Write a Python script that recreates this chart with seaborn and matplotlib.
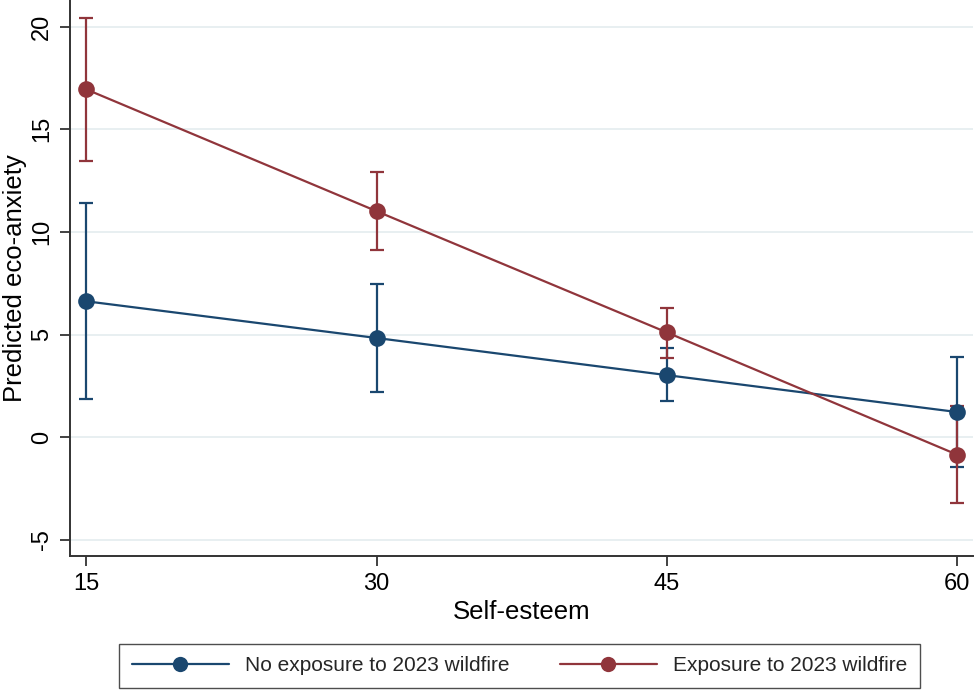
import pandas as pd
import matplotlib.pyplot as plt
import seaborn as sns
from matplotlib.lines import Line2D

# ==============================================================================
# DATA
# ==============================================================================
self_esteem = [15, 30, 45, 60]
groups = ["No exposure to 2023 wildfire", "Exposure to 2023 wildfire"]

pred_no_exposure = [6.62, 4.83, 3.02, 1.22]
lower_no_exposure = [1.84, 2.20, 1.77, -1.48]
upper_no_exposure = [11.41, 7.45, 4.32, 3.91]

pred_exposure = [16.95, 11.01, 5.10, -0.86]
lower_exposure = [13.47, 9.12, 3.86, -3.23]
upper_exposure = [20.44, 12.90, 6.27, 1.54]

y_ticks = [-5, 0, 5, 10, 15, 20]

# ==============================================================================
# STYLE
# ==============================================================================
NAVY = "#1a476f"
MAROON = "#90353b"
GRID = "#e6eef0"

sns.set_theme(style="white")
plt.rcParams["font.family"] = ["Liberation Sans", "DejaVu Sans"]

df = pd.DataFrame({
    "self_esteem": self_esteem * 2,
    "pred": pred_no_exposure + pred_exposure,
    "lower": lower_no_exposure + lower_exposure,
    "upper": upper_no_exposure + upper_exposure,
    "group": [groups[0]] * 4 + [groups[1]] * 4,
})
palette = {groups[0]: NAVY, groups[1]: MAROON}

fig = plt.figure(figsize=(9.75, 6.9), dpi=100)
ax = fig.add_axes([0.0718, 0.194, 0.926, 0.806])

# confidence intervals (caps)
for g in groups:
    sub = df[df["group"] == g]
    ax.errorbar(sub["self_esteem"], sub["pred"],
                yerr=[sub["pred"] - sub["lower"], sub["upper"] - sub["pred"]],
                fmt="none", ecolor=palette[g], elinewidth=1.6,
                capsize=5, capthick=1.6, zorder=2)

# predicted margins
sns.lineplot(data=df, x="self_esteem", y="pred", hue="group", palette=palette,
             hue_order=groups, marker="o", markersize=12, markeredgewidth=0,
             linewidth=1.6, legend=False, ax=ax, zorder=3)

ax.set_xlim(14.17, 60.8)
ax.set_ylim(-5.8, 21.3)
ax.set_xticks(self_esteem)
ax.set_yticks(y_ticks)
ax.set_xticklabels([str(v) for v in self_esteem], fontsize=17, color="black")
ax.set_yticklabels([str(v) for v in y_ticks], fontsize=17, rotation=90,
                   va="center", color="black")
ax.tick_params(axis="both", direction="out", length=7, width=1.3,
               color="#333333", left=True, bottom=True, pad=5)
ax.yaxis.grid(True, color=GRID, linewidth=1.3)
ax.set_axisbelow(True)

for side in ["top", "right"]:
    ax.spines[side].set_visible(False)
for side in ["left", "bottom"]:
    ax.spines[side].set_color("#333333")
    ax.spines[side].set_linewidth(1.4)

ax.set_xlabel("Self-esteem", fontsize=18.5, labelpad=4, color="black")
ax.set_ylabel("Predicted eco-anxiety", fontsize=18.5, labelpad=3, color="black")

handles = [Line2D([0], [0], color=palette[g], marker="o", markersize=11,
                  markeredgewidth=0, linewidth=1.6) for g in groups]
leg = fig.legend(handles, groups, loc="lower center", bbox_to_anchor=(0.533, 0.0),
                 ncol=2, frameon=True, fancybox=False, fontsize=15,
                 handlelength=4.65, columnspacing=2.4, borderpad=0.6,
                 handletextpad=0.8, borderaxespad=0.1)
leg.get_frame().set_edgecolor("#222222")
leg.get_frame().set_linewidth(1.0)

fig.savefig("out.png", dpi=100)
